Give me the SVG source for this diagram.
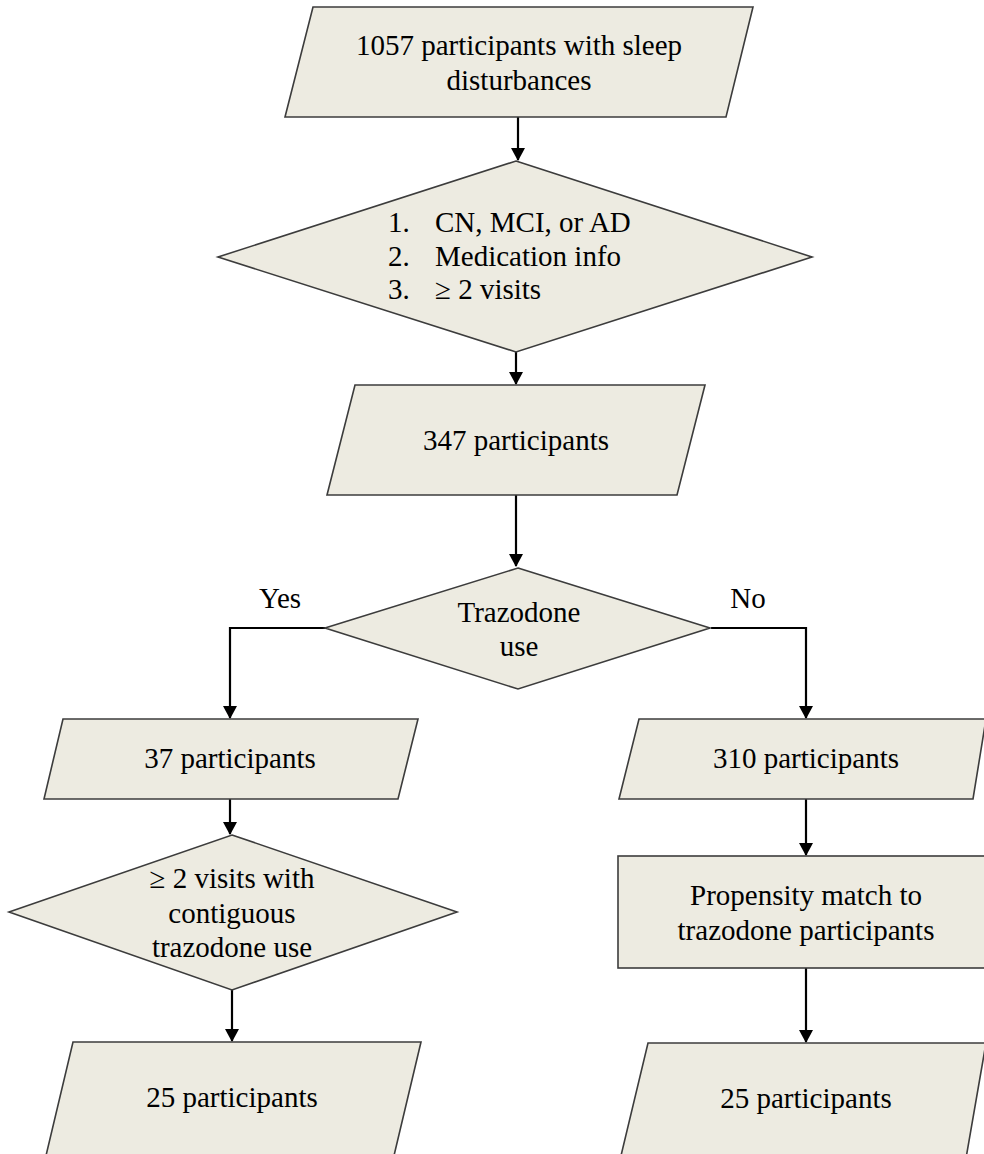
<svg xmlns="http://www.w3.org/2000/svg" width="984" height="1154" viewBox="0 0 984 1154">
<defs>
<marker id="ah" markerWidth="14" markerHeight="14" refX="12" refY="7" orient="auto" markerUnits="userSpaceOnUse">
<path d="M0,0 L13,7 L0,14 Z" fill="#000"/>
</marker>
<style>
.s{fill:#EDEBE1;stroke:#3c3c3c;stroke-width:1.6;}
.t{font-family:"Liberation Serif","Times New Roman",serif;font-size:29px;fill:#000;}
.c{text-anchor:middle;}
.k{fill:none;stroke:#000;stroke-width:2.2;marker-end:url(#ah);}
</style>
</defs>
<rect width="984" height="1154" fill="#fff"/>
<g id="connectors">
<path class="k" d="M518,117 L518,160"/>
<path class="k" d="M516,352 L516,384"/>
<path class="k" d="M516,495 L516,566"/>
<path class="k" d="M325,628 L230,628 L230,718"/>
<path class="k" d="M711,628 L806,628 L806,718"/>
<path class="k" d="M230,799 L230,834"/>
<path class="k" d="M232,990 L232,1041"/>
<path class="k" d="M806,799 L806,855"/>
<path class="k" d="M806,968 L806,1042"/>
</g>
<g id="n1">
<polygon class="s" points="313,7 753,7 726,117 285,117"/>
<text class="t c" x="519" y="55">1057 participants with sleep</text>
<text class="t c" x="519" y="90">disturbances</text>
</g>
<g id="n2">
<polygon class="s" points="516,161 812,257 516,352 218,257"/>
<text class="t" x="388" y="232">1.</text><text class="t" x="435" y="232">CN, MCI, or AD</text>
<text class="t" x="388" y="266">2.</text><text class="t" x="435" y="266">Medication info</text>
<text class="t" x="388" y="299">3.</text><text class="t" x="435" y="299">≥ 2 visits</text>
</g>
<g id="n3">
<polygon class="s" points="355,385 705,385 677,495 327,495"/>
<text class="t c" x="516" y="450">347 participants</text>
</g>
<g id="n4">
<polygon class="s" points="518,568 710,628 518,689 325,628"/>
<text class="t c" x="519" y="622">Trazodone</text>
<text class="t c" x="519" y="656">use</text>
</g>
<text class="t c" x="280" y="608">Yes</text>
<text class="t c" x="748" y="608">No</text>
<g id="n5">
<polygon class="s" points="63,719 418,719 398,799 44,799"/>
<text class="t c" x="230" y="768">37 participants</text>
</g>
<g id="n6">
<polygon class="s" points="232,835 457,912 232,990 9,912"/>
<text class="t c" x="232" y="888">≥ 2 visits with</text>
<text class="t c" x="232" y="923">contiguous</text>
<text class="t c" x="232" y="957">trazodone use</text>
</g>
<g id="n7">
<polygon class="s" points="73,1042 421,1042 392,1164 44,1164"/>
<text class="t c" x="232" y="1107">25 participants</text>
</g>
<g id="n8">
<polygon class="s" points="639,719 986,719 973,799 619,799"/>
<text class="t c" x="806" y="768">310 participants</text>
</g>
<g id="n9">
<rect class="s" x="618" y="856" width="380" height="112"/>
<text class="t c" x="806" y="905">Propensity match to</text>
<text class="t c" x="806" y="940">trazodone participants</text>
</g>
<g id="n10">
<polygon class="s" points="648,1043 986,1043 965,1164 619,1164"/>
<text class="t c" x="806" y="1108">25 participants</text>
</g>
</svg>
